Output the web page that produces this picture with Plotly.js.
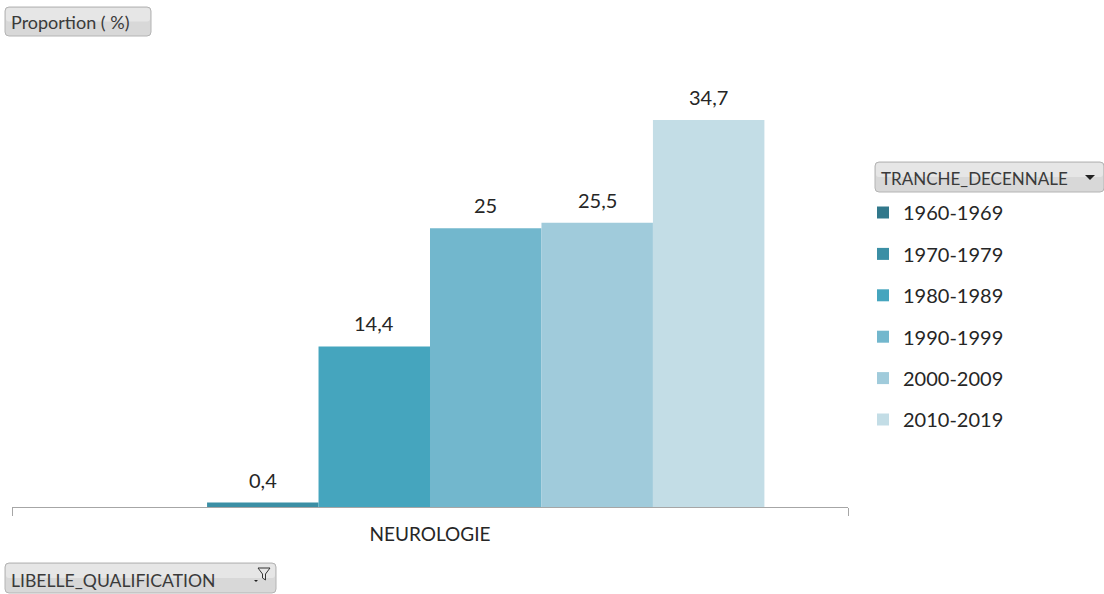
<!DOCTYPE html>
<html>
<head>
<meta charset="utf-8">
<script src="https://cdn.plot.ly/plotly-3.0.1.min.js"></script>
<style>html,body{margin:0;padding:0;background:#fff;}#chart{width:1104px;height:594px;}</style>
</head>
<body>
<div id="chart"></div>
<script>
const categories = ["NEUROLOGIE"];
const seriesNames = ["1960-1969","1970-1979","1980-1989","1990-1999","2000-2009","2010-2019"];
const seriesValues = [null, 0.4, 14.4, 25, 25.5, 34.7];
const seriesColors = ["#31788b","#3b8fa5","#45a5be","#72b7cd","#a0cbdb","#c3dde6"];

const W = 1104, H = 594, L = 12, R = 256, T = 61, B = 87;
const PW = W - L - R, PH = H - T - B;
const px = x => (x - L) / PW;
const py = y => (H - B - y) / PH;
const FONT = "Lato, 'Open Sans', sans-serif";
const BARGAP = 0.2;

const traces = seriesNames.map((n, i) => ({
  type: "bar",
  name: n,
  x: categories,
  y: [seriesValues[i]],
  marker: {color: seriesColors[i], line: {width: 0}},
  legendgroup: "g" + i,
  hoverinfo: "skip"
}));

function roundRect(x0, y0, x1, y1, r) {
  const X = v => px(v), Y = v => py(v);
  return `M${X(x0 + r)},${Y(y0)} L${X(x1 - r)},${Y(y0)} Q${X(x1)},${Y(y0)} ${X(x1)},${Y(y0 + r)} ` +
    `L${X(x1)},${Y(y1 - r)} Q${X(x1)},${Y(y1)} ${X(x1 - r)},${Y(y1)} L${X(x0 + r)},${Y(y1)} ` +
    `Q${X(x0)},${Y(y1)} ${X(x0)},${Y(y1 - r)} L${X(x0)},${Y(y0 + r)} Q${X(x0)},${Y(y0)} ${X(x0 + r)},${Y(y0)} Z`;
}
function button(x0, y0, x1, y1) {
  return [
    {type: "path", xref: "paper", yref: "paper", path: roundRect(x0, y0, x1, y1, 4),
     fillcolor: "#d8d8d8", line: {color: "#b4b4b4", width: 1}, layer: "below"},
    {type: "path", xref: "paper", yref: "paper", path: roundRect(x0 + 1, y0 + 1, x1 - 1, (y0 + y1) / 2, 3),
     fillcolor: "#e6e6e6", line: {width: 0}, layer: "below"}
  ];
}
const shapes = [].concat(
  button(5, 7, 151, 36),
  button(875, 162, 1104, 192),
  button(5, 563, 276, 593),
  [
    {type: "path", xref: "paper", yref: "paper",
     path: `M${px(1085)},${py(175)} L${px(1095)},${py(175)} L${px(1090)},${py(180)} Z`,
     fillcolor: "#222", line: {width: 0}},
    {type: "path", xref: "paper", yref: "paper",
     path: `M${px(258)},${py(568)} L${px(270)},${py(568)} L${px(265.5)},${py(574)} L${px(265.5)},${py(580)} L${px(262.5)},${py(578)} L${px(262.5)},${py(574)} Z`,
     fillcolor: "rgba(0,0,0,0)", line: {color: "#333", width: 1}},
    {type: "path", xref: "paper", yref: "paper",
     path: `M${px(254)},${py(580)} L${px(258)},${py(580)} L${px(256)},${py(582)} Z`,
     fillcolor: "#222", line: {width: 0}}
  ]
);

const n = seriesNames.length;
const labelAnnotations = [];
seriesValues.forEach((v, i) => {
  if (v === null) return;
  labelAnnotations.push({
    xref: "x", yref: "y",
    x: -(1 - BARGAP) / 2 + (i + 0.5) * (1 - BARGAP) / n,
    y: v, yanchor: "bottom", xanchor: "center", yshift: 9,
    text: String(v).replace(".", ","), showarrow: false,
    font: {family: FONT, size: 20, color: "#262626"}
  });
});

const annotations = labelAnnotations.concat([
  {xref: "paper", yref: "paper", x: px(9), y: py(22), xanchor: "left", yanchor: "middle",
   text: "Proportion ( %)", showarrow: false, font: {family: FONT, size: 18, color: "#3a3a3a"}},
  {xref: "paper", yref: "paper", x: px(879), y: py(178), xanchor: "left", yanchor: "middle",
   text: "TRANCHE_DECENNALE", showarrow: false, font: {family: FONT, size: 17, color: "#3a3a3a"}},
  {xref: "paper", yref: "paper", x: px(9), y: py(580), xanchor: "left", yanchor: "middle",
   text: "LIBELLE_QUALIFICATION", showarrow: false, font: {family: FONT, size: 17.6, color: "#3a3a3a"}}
]);

const layout = {
  width: W, height: H,
  margin: {l: L, r: R, t: T, b: B, pad: 0},
  paper_bgcolor: "#ffffff", plot_bgcolor: "#ffffff",
  separators: ", ",
  barmode: "group", bargap: BARGAP, bargroupgap: 0,
  showlegend: true,
  legend: {x: px(863), xanchor: "left", y: py(193), yanchor: "top",
           font: {family: FONT, size: 20, color: "#262626"},
           tracegroupgap: 12.4, itemclick: false, bgcolor: "rgba(0,0,0,0)"},
  xaxis: {type: "category", showline: true, linecolor: "#a6a6a6", linewidth: 1,
          ticks: "outside", tickson: "boundaries", ticklen: 8, tickcolor: "#a6a6a6",
          ticklabelstandoff: 10,
          tickfont: {family: FONT, size: 19, color: "#262626"}, showgrid: false, zeroline: false,
          fixedrange: true},
  yaxis: {range: [0, 40], visible: false, showgrid: false, zeroline: false, fixedrange: true},
  shapes: shapes,
  annotations: annotations
};

Plotly.newPlot("chart", traces, layout, {displayModeBar: false, staticPlot: true});
</script>
</body>
</html>
